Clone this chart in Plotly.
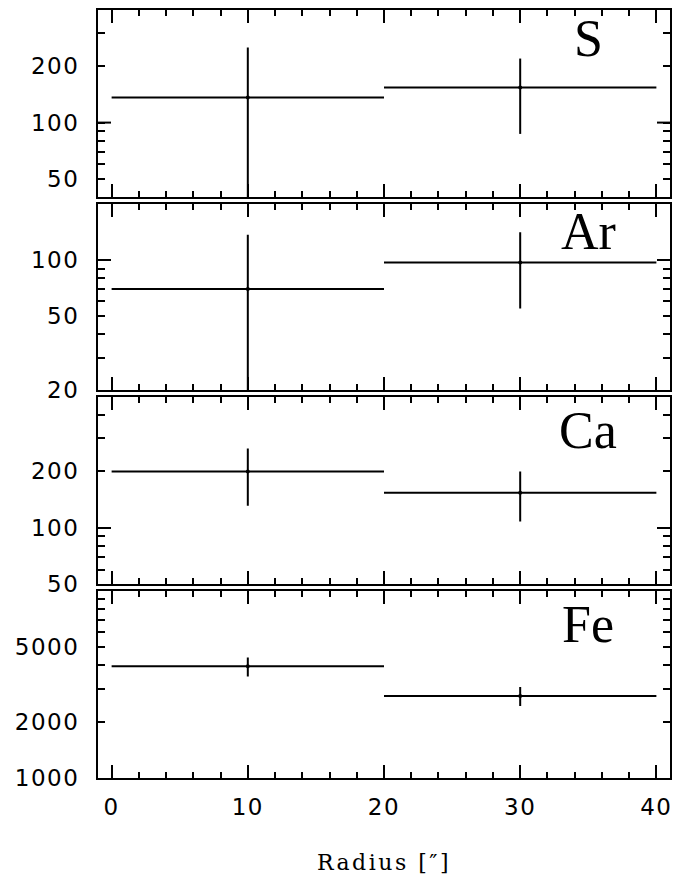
import math
import plotly.graph_objects as go

# ---- data ----
elements = ["S", "Ar", "Ca", "Fe"]
bin_centers = [10, 30]
bin_halfwidth = [10, 10]
values = {
    "S": [136, 154],
    "Ar": [70, 97],
    "Ca": [200, 154],
    "Fe": [3950, 2740],
}
upper = {
    "S": [252, 220],
    "Ar": [137, 141],
    "Ca": [265, 200],
    "Fe": [4400, 3065],
}
lower = {
    "S": [0, 87],
    "Ar": [0, 55],
    "Ca": [131, 108],
    "Fe": [3485, 2426],
}
y_ranges = {
    "S": [40, 400],
    "Ar": [20, 200],
    "Ca": [50, 500],
    "Fe": [1000, 10000],
}
y_labels = {
    "S": [50, 100, 200],
    "Ar": [20, 50, 100],
    "Ca": [50, 100, 200],
    "Fe": [1000, 2000, 5000],
}
x_ticks = [0, 10, 20, 30, 40]
x_range = [-1, 41]
x_title = "Radius [″]"
label_ypos = {"S": 0.85, "Ar": 0.85, "Ca": 0.82, "Fe": 0.82}

domains = [[0.7565, 1.0], [0.5047, 0.7474], [0.2521, 0.4965], [0.0, 0.2439]]


def spaced(s, px):
    return f'<span style="letter-spacing:{px}px">{s}</span>'


fig = go.Figure()
tickfont = dict(family="DejaVu Sans", size=23, color="black")
LW = 2

for i, el in enumerate(elements):
    n = i + 1
    xa = "x" if n == 1 else f"x{n}"
    ya = "y" if n == 1 else f"y{n}"
    vals = values[el]
    ep = [u - v for u, v in zip(upper[el], vals)]
    em = [v - l for v, l in zip(vals, lower[el])]
    fig.add_trace(go.Scatter(
        x=bin_centers, y=vals, mode="markers",
        marker=dict(size=4, color="black"),
        error_x=dict(type="data", array=bin_halfwidth, symmetric=True,
                     width=0, thickness=LW, color="black"),
        error_y=dict(type="data", array=ep, arrayminus=em, symmetric=False,
                     width=0, thickness=LW, color="black"),
        xaxis=xa, yaxis=ya, showlegend=False, hoverinfo="skip",
    ))

    lo, hi = y_ranges[el]
    minor_vals = []
    d = 10 ** math.floor(math.log10(lo))
    while d < hi:
        for k in range(1, 10):
            v = k * d
            if lo <= v <= hi and v not in y_labels[el]:
                minor_vals.append(v)
        d *= 10

    ykey = "yaxis" if n == 1 else f"yaxis{n}"
    xkey = "xaxis" if n == 1 else f"xaxis{n}"
    fig.layout[ykey] = dict(
        type="log", range=[math.log10(lo), math.log10(hi)],
        domain=domains[i], anchor=xa, automargin=False,
        showline=True, linecolor="black", linewidth=LW, mirror="ticks",
        ticks="inside", ticklen=7, tickwidth=LW, tickcolor="black",
        tickvals=y_labels[el], ticktext=[spaced(v, 1.5) for v in y_labels[el]],
        tickfont=tickfont, ticklabelstandoff=12,
        minor=dict(tickvals=minor_vals, ticks="inside", ticklen=7,
                   tickwidth=LW, tickcolor="black", showgrid=False),
        showgrid=False, zeroline=False, fixedrange=True,
    )
    fig.layout[xkey] = dict(
        range=x_range, anchor=ya, matches=None if n == 4 else "x4",
        automargin=False,
        showline=True, linecolor="black", linewidth=LW, mirror="ticks",
        ticks="inside", ticklen=13, tickwidth=LW, tickcolor="black",
        tickvals=x_ticks, ticktext=[spaced(v, 1.5) for v in x_ticks],
        showticklabels=(n == 4), tickfont=tickfont,
        ticklabelstandoff=7,
        minor=dict(dtick=2, tick0=0, ticks="inside", ticklen=6,
                   tickwidth=LW, tickcolor="black", showgrid=False),
        showgrid=False, zeroline=False,
    )

    # long ticks at decades inside the range (left and right)
    d = 10 ** math.ceil(math.log10(lo))
    while d < hi:
        if d > lo:
            for xanchor, x0, x1 in [(x_range[0], 0, 13), (x_range[1], -13, 0)]:
                fig.add_shape(type="line", xref=xa, yref=ya,
                              xsizemode="pixel", xanchor=xanchor, x0=x0, x1=x1,
                              y0=d, y1=d, line=dict(color="black", width=LW))
        d *= 10

    fig.add_annotation(
        text=el, xref=xa, yref=f"{ya} domain", x=35, y=label_ypos[el],
        xanchor="center", yanchor="middle", showarrow=False,
        font=dict(family="Liberation Serif", size=52, color="black"),
    )

fig.layout["xaxis4"]["title"] = dict(
    text=spaced(x_title, 2.5),
    font=dict(family="DejaVu Serif", size=22, color="black"),
    standoff=36)

fig.update_layout(
    width=682, height=876,
    margin=dict(l=98, r=12, t=10, b=98),
    paper_bgcolor="white", plot_bgcolor="white",
)

fig.write_html("out.html", config={"displayModeBar": False},
               post_script="document.body.style.margin='0';")
